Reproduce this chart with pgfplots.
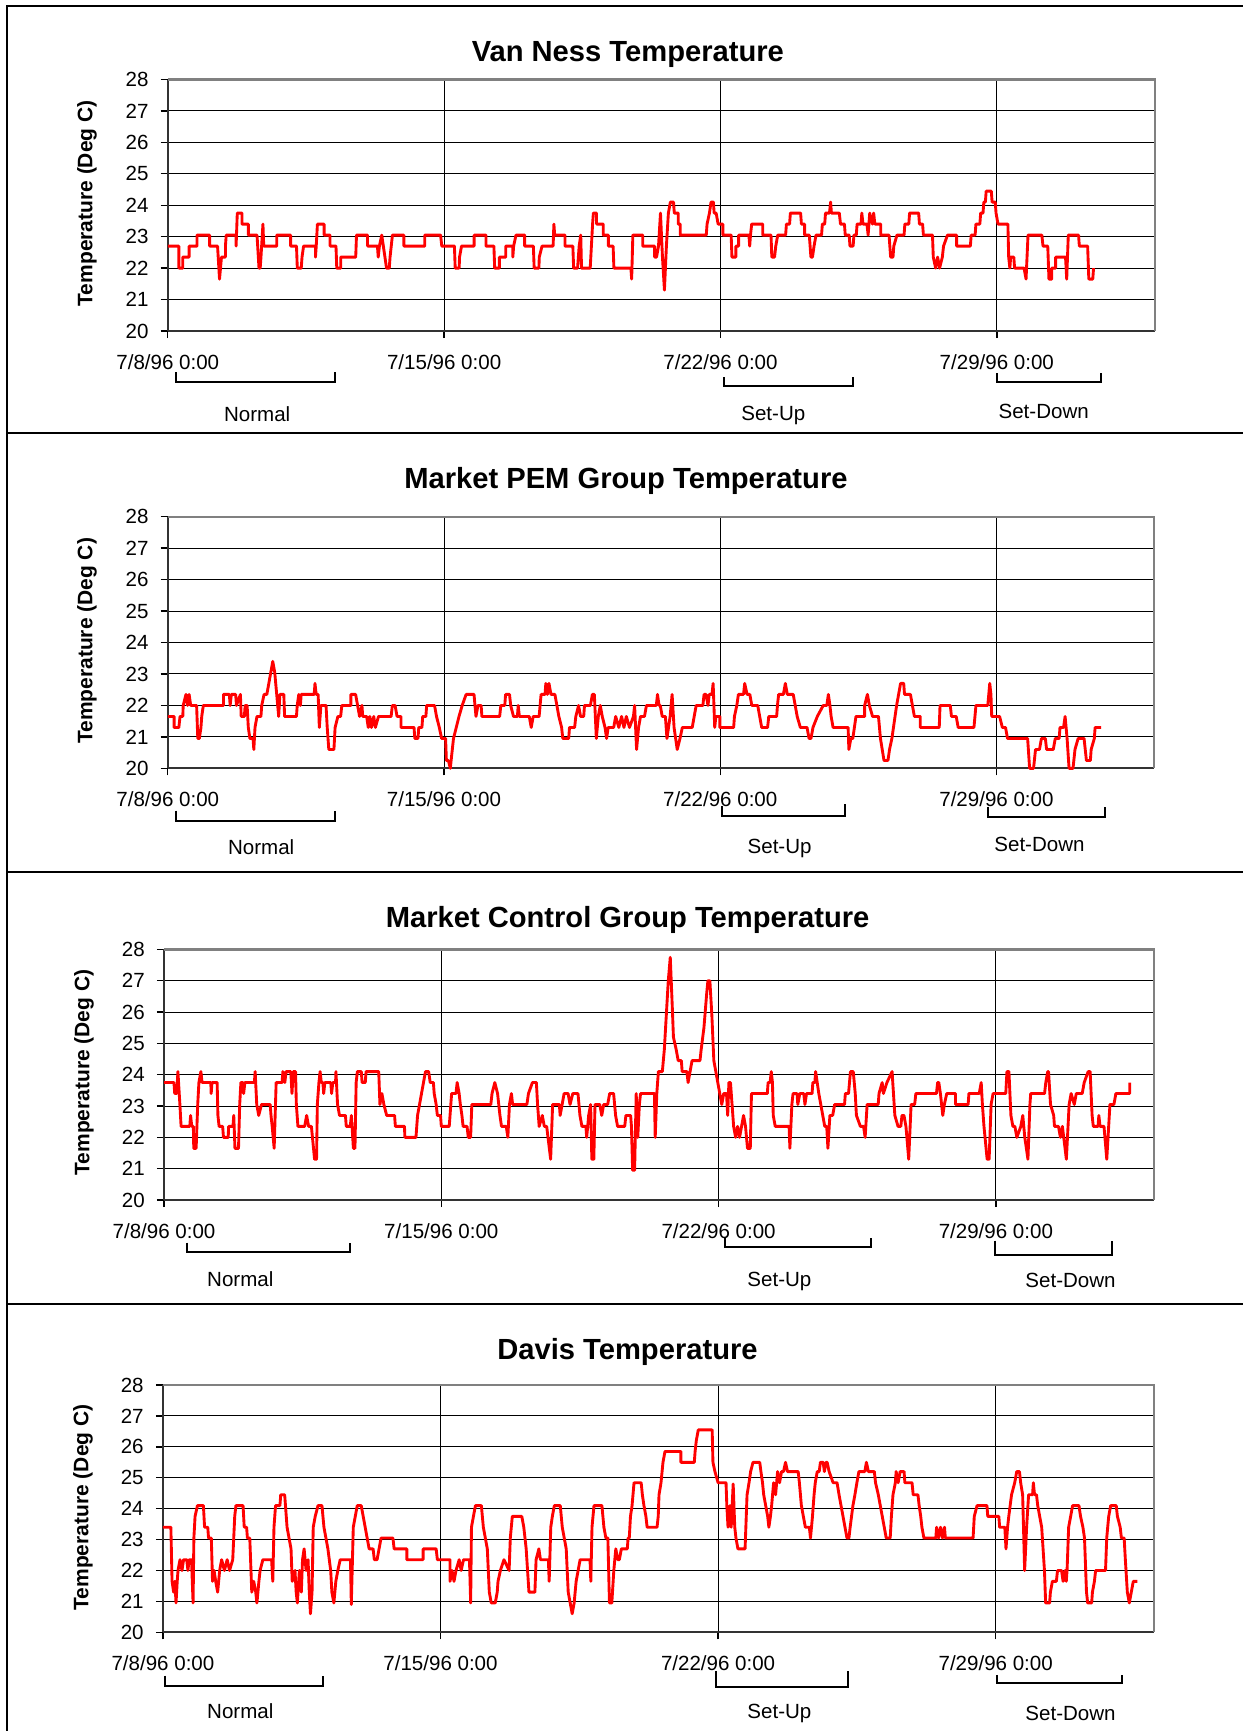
\documentclass[border=0pt]{standalone}
\usepackage{fontspec}
\setmainfont{Liberation Sans}
\usepackage{pgfplots}
\pgfplotsset{compat=1.18}

% common look of the four temperature panels (x = days after 7/8/96 0:00)
\pgfplotsset{
  temp/.style={
    scale only axis, anchor=south west,
    xmin=0, xmax=25, ymin=20, ymax=28,
    xtick={0,7,14,21},
    xticklabels={7/8/96 0:00,7/15/96 0:00,7/22/96 0:00,7/29/96 0:00},
    ytick={20,21,...,28},
    axis lines=left,
    axis line style={-, line width=0.9pt, black!80},
    grid=major,
    major grid style={line width=0.45pt, black},
    tick align=outside, major tick length=3.2pt,
    major tick style={line width=0.6pt, black},
    tick label style={font=\fontsize{9.3}{11}\selectfont},
    /pgf/number format/assume math mode=true,
    xticklabel style={anchor=north, yshift=-4pt},
    yticklabel style={anchor=east, xshift=-2pt},
    clip=false,
  },
  trace/.style={red, line width=1.3pt, line join=round, mark=none},
}
\newcommand{\plotframe}{\draw[gray, line width=1pt] (rel axis cs:0,1) -- (rel axis cs:1,1) -- (rel axis cs:1,0);}
\newcommand{\ttl}{\fontsize{13.2}{15}\selectfont\bfseries}
\newcommand{\ylab}{\fontsize{9.5}{11}\selectfont\bfseries Temperature (Deg C)}
\newcommand{\lab}{\fontsize{9.3}{11}\selectfont}

\begin{document}
\begin{tikzpicture}
\useasboundingbox (0,0) rectangle (563pt,-784pt);

% ---------- Van Ness ----------
\begin{axis}[temp, at={(76pt,-149.9pt)}, width=447pt, height=113.9pt]
\addplot[trace] coordinates {(0,22.7)(0.28,22.7)(0.28,22.0)(0.38,22.0)(0.38,22.35)(0.54,22.35)(0.54,22.7)(0.74,22.7)(0.74,23.05)(1.06,23.05)(1.06,22.7)(1.26,22.7)(1.31,21.65)(1.36,22.35)(1.46,22.35)(1.46,22.7)(1.48,23.05)(1.73,23.05)(1.73,22.7)(1.76,23.75)(1.88,23.75)(1.88,23.4)(2.04,23.4)(2.04,23.05)(2.26,23.05)(2.31,22.0)(2.34,22.0)(2.36,22.35)(2.41,23.4)(2.43,22.7)(2.76,22.7)(2.76,23.05)(3.11,23.05)(3.11,22.7)(3.26,22.7)(3.28,22.0)(3.38,22.0)(3.40,22.35)(3.44,22.7)(3.74,22.7)(3.74,22.35)(3.76,22.7)(3.79,23.4)(3.96,23.4)(3.96,23.05)(4.11,23.05)(4.11,22.7)(4.26,22.7)(4.28,22.0)(4.38,22.0)(4.38,22.35)(4.76,22.35)(4.78,23.05)(5.06,23.05)(5.06,22.7)(5.31,22.7)(5.33,22.35)(5.36,22.7)(5.42,23.05)(5.54,22.0)(5.61,22.0)(5.63,22.35)(5.66,22.7)(5.69,23.05)(5.98,23.05)(5.98,22.7)(6.51,22.7)(6.51,23.05)(6.91,23.05)(6.94,22.7)(7.26,22.7)(7.28,22.0)(7.38,22.0)(7.39,22.35)(7.44,22.7)(7.76,22.7)(7.76,23.05)(8.06,23.05)(8.06,22.7)(8.26,22.7)(8.28,22.0)(8.40,22.0)(8.40,22.35)(8.56,22.35)(8.56,22.7)(8.74,22.7)(8.74,22.35)(8.76,22.7)(8.82,23.05)(9.04,23.05)(9.04,22.7)(9.26,22.7)(9.28,22.0)(9.40,22.0)(9.41,22.35)(9.48,22.7)(9.76,22.7)(9.78,23.4)(9.80,23.05)(10.06,23.05)(10.06,22.7)(10.26,22.7)(10.28,22.0)(10.38,22.0)(10.40,22.35)(10.42,22.7)(10.46,23.05)(10.48,22.0)(10.70,22.0)(10.73,22.7)(10.76,23.4)(10.78,23.75)(10.86,23.75)(10.86,23.4)(11.03,23.4)(11.03,23.05)(11.16,23.05)(11.16,22.7)(11.28,22.7)(11.30,22.0)(11.73,22.0)(11.75,21.65)(11.78,23.05)(12.03,23.05)(12.03,22.7)(12.33,22.7)(12.33,22.35)(12.38,22.35)(12.43,22.7)(12.48,23.75)(12.53,22.35)(12.58,21.3)(12.63,22.7)(12.68,23.75)(12.73,24.1)(12.81,24.1)(12.83,23.75)(12.93,23.75)(12.93,23.4)(12.98,23.4)(12.98,23.05)(13.64,23.05)(13.66,23.4)(13.72,23.75)(13.76,24.1)(13.82,24.1)(13.84,23.75)(13.89,23.75)(13.94,23.4)(14.06,23.4)(14.06,23.05)(14.27,23.05)(14.29,22.35)(14.39,22.35)(14.39,22.7)(14.46,22.7)(14.46,23.05)(14.72,23.05)(14.74,22.7)(14.76,23.05)(14.79,23.4)(15.07,23.4)(15.07,23.05)(15.28,23.05)(15.30,22.35)(15.37,22.35)(15.40,22.7)(15.45,23.05)(15.65,23.05)(15.67,23.4)(15.75,23.4)(15.77,23.75)(16.03,23.75)(16.05,23.4)(16.13,23.4)(16.13,23.05)(16.25,23.05)(16.29,22.35)(16.33,22.35)(16.37,22.7)(16.42,23.05)(16.56,23.05)(16.58,23.4)(16.64,23.4)(16.66,23.75)(16.76,23.75)(16.79,24.1)(16.81,23.75)(17.01,23.75)(17.04,23.4)(17.14,23.4)(17.16,23.05)(17.26,23.05)(17.28,22.7)(17.36,22.7)(17.38,23.05)(17.44,23.05)(17.46,23.4)(17.56,23.4)(17.58,23.75)(17.61,23.4)(17.71,23.4)(17.74,23.05)(17.78,23.75)(17.85,23.4)(17.88,23.75)(17.91,23.4)(18.06,23.4)(18.06,23.05)(18.27,23.05)(18.31,22.35)(18.37,22.35)(18.39,22.7)(18.47,23.05)(18.65,23.05)(18.67,23.4)(18.77,23.4)(18.79,23.75)(19.02,23.75)(19.04,23.4)(19.12,23.4)(19.14,23.05)(19.37,23.05)(19.39,22.35)(19.45,22.0)(19.50,22.35)(19.55,22.0)(19.62,22.35)(19.65,22.7)(19.75,23.05)(19.98,23.05)(19.98,22.7)(20.33,22.7)(20.35,23.05)(20.45,23.05)(20.47,23.4)(20.57,23.4)(20.59,23.75)(20.65,23.75)(20.67,24.1)(20.71,24.1)(20.73,24.45)(20.86,24.45)(20.88,24.1)(20.96,24.1)(20.98,23.75)(21.03,23.4)(21.28,23.4)(21.30,22.35)(21.33,22.0)(21.35,22.35)(21.43,22.35)(21.45,22.0)(21.69,22.0)(21.74,21.65)(21.79,23.05)(22.14,23.05)(22.17,22.7)(22.29,22.7)(22.32,21.65)(22.39,21.65)(22.39,22.0)(22.49,22.0)(22.49,22.35)(22.74,22.35)(22.77,21.65)(22.81,23.05)(23.07,23.05)(23.09,22.7)(23.30,22.7)(23.33,21.65)(23.43,21.65)(23.45,22.0)};
\plotframe
\end{axis}

% ---------- Market PEM Group ----------
\begin{axis}[temp, at={(76pt,-348pt)}, width=446.8pt, height=114pt]
\addplot[trace] coordinates {(0,21.65)(0.16,21.65)(0.16,21.3)(0.28,21.3)(0.31,21.65)(0.38,21.65)(0.39,22.0)(0.46,22.35)(0.50,22.0)(0.54,22.35)(0.58,22.0)(0.73,22.0)(0.76,20.95)(0.80,20.95)(0.84,21.3)(0.86,21.65)(0.90,22.0)(1.41,22.0)(1.41,22.35)(1.56,22.35)(1.58,22.0)(1.61,22.35)(1.72,22.35)(1.74,22.0)(1.84,22.35)(1.86,21.65)(1.94,21.65)(1.96,22.0)(2.01,22.0)(2.04,21.3)(2.08,20.95)(2.16,20.95)(2.18,20.6)(2.21,21.3)(2.26,21.65)(2.36,21.65)(2.38,22.0)(2.44,22.35)(2.51,22.35)(2.56,22.7)(2.61,23.05)(2.66,23.4)(2.71,23.05)(2.76,22.35)(2.81,21.65)(2.84,22.35)(2.94,22.35)(2.96,21.65)(3.26,21.65)(3.28,22.0)(3.32,22.35)(3.36,22.0)(3.38,22.35)(3.71,22.35)(3.73,22.7)(3.76,22.35)(3.81,22.35)(3.84,21.3)(3.88,22.0)(4.01,22.0)(4.04,21.3)(4.08,20.6)(4.21,20.6)(4.24,21.3)(4.31,21.65)(4.38,21.65)(4.41,22.0)(4.64,22.0)(4.64,22.35)(4.76,22.35)(4.81,22.0)(4.86,21.65)(4.92,22.0)(4.94,21.65)(5.04,21.65)(5.08,21.3)(5.12,21.65)(5.16,21.3)(5.22,21.65)(5.26,21.3)(5.34,21.65)(5.66,21.65)(5.69,22.0)(5.76,22.0)(5.81,21.65)(5.91,21.65)(5.91,21.3)(6.24,21.3)(6.26,20.95)(6.34,20.95)(6.36,21.3)(6.44,21.3)(6.46,21.65)(6.54,21.65)(6.56,22.0)(6.76,22.0)(6.81,21.65)(6.88,21.3)(6.94,20.95)(7.04,20.95)(7.06,20.25)(7.11,20.25)(7.16,20.0)(7.18,20.25)(7.24,20.95)(7.31,21.3)(7.38,21.65)(7.46,22.0)(7.56,22.35)(7.76,22.35)(7.81,21.65)(7.86,22.0)(7.94,22.0)(7.96,21.65)(8.41,21.65)(8.44,22.0)(8.54,22.0)(8.56,22.35)(8.66,22.35)(8.69,22.0)(8.76,21.65)(8.86,21.65)(8.88,22.0)(8.91,21.65)(9.16,21.65)(9.21,21.3)(9.26,21.65)(9.41,21.65)(9.46,22.35)(9.56,22.35)(9.58,22.7)(9.62,22.35)(9.66,22.7)(9.71,22.35)(9.81,22.35)(9.86,22.0)(9.91,21.65)(9.98,21.3)(10.01,20.95)(10.16,20.95)(10.18,21.3)(10.31,21.3)(10.34,21.65)(10.41,22.0)(10.46,21.65)(10.54,21.65)(10.56,22.0)(10.71,22.0)(10.76,22.35)(10.81,22.35)(10.86,20.95)(10.91,21.65)(10.96,22.0)(11.01,21.65)(11.08,21.3)(11.12,20.95)(11.16,21.3)(11.30,21.3)(11.35,21.65)(11.43,21.3)(11.50,21.65)(11.56,21.3)(11.62,21.65)(11.70,21.3)(11.80,21.65)(11.83,22.0)(11.88,20.6)(11.93,21.3)(11.98,21.65)(12.08,21.65)(12.13,22.0)(12.38,22.0)(12.41,22.35)(12.45,22.0)(12.48,22.0)(12.53,21.65)(12.61,21.65)(12.65,20.95)(12.73,21.65)(12.78,22.35)(12.83,21.3)(12.91,20.6)(12.98,20.95)(13.04,21.3)(13.29,21.3)(13.34,21.65)(13.39,22.0)(13.56,22.0)(13.59,22.35)(13.64,22.35)(13.69,22.0)(13.72,22.35)(13.79,22.35)(13.82,22.7)(13.86,21.3)(13.89,21.65)(13.99,21.65)(13.99,21.3)(14.34,21.3)(14.36,21.65)(14.42,22.0)(14.46,22.35)(14.59,22.35)(14.62,22.7)(14.68,22.35)(14.75,22.35)(14.80,22.0)(14.95,22.0)(15.00,21.65)(15.05,21.3)(15.20,21.3)(15.23,21.65)(15.43,21.65)(15.45,22.0)(15.48,22.35)(15.60,22.35)(15.65,22.7)(15.70,22.35)(15.85,22.35)(15.90,22.0)(15.95,21.65)(16.03,21.3)(16.20,21.3)(16.25,20.95)(16.30,20.95)(16.35,21.3)(16.46,21.65)(16.61,22.0)(16.70,22.0)(16.74,22.35)(16.78,22.0)(16.81,21.65)(16.86,21.3)(17.24,21.3)(17.26,20.6)(17.31,20.95)(17.36,20.95)(17.44,21.65)(17.66,21.65)(17.66,22.0)(17.73,22.35)(17.78,22.0)(17.86,21.65)(18.01,21.65)(18.06,20.95)(18.15,20.25)(18.25,20.25)(18.29,20.6)(18.35,20.95)(18.39,21.3)(18.47,22.0)(18.52,22.35)(18.57,22.7)(18.65,22.7)(18.67,22.35)(18.82,22.35)(18.87,22.0)(18.92,21.65)(19.07,21.65)(19.07,21.3)(19.55,21.3)(19.57,22.0)(19.83,22.0)(19.86,21.65)(19.98,21.65)(20.03,21.3)(20.43,21.3)(20.48,22.0)(20.78,22.0)(20.83,22.7)(20.86,22.35)(20.88,21.65)(21.08,21.65)(21.15,21.3)(21.23,21.3)(21.28,20.95)(21.79,20.95)(21.84,20.0)(21.94,20.0)(21.99,20.6)(22.09,20.6)(22.14,20.95)(22.24,20.95)(22.27,20.6)(22.44,20.6)(22.49,20.95)(22.59,20.95)(22.61,21.3)(22.70,21.3)(22.74,21.65)(22.79,20.95)(22.84,20.0)(22.94,20.0)(22.99,20.6)(23.07,20.95)(23.22,20.95)(23.28,20.25)(23.38,20.25)(23.40,20.6)(23.48,20.95)(23.50,21.3)(23.65,21.3)};
\plotframe
\end{axis}

% ---------- Market Control Group ----------
\begin{axis}[temp, at={(74.3pt,-543.5pt)}, width=448.5pt, height=113.5pt]
\addplot[trace] coordinates {(0,23.75)(0.25,23.75)(0.27,23.4)(0.32,23.4)(0.35,24.1)(0.40,23.05)(0.43,22.35)(0.65,22.35)(0.67,22.7)(0.70,22.35)(0.74,22.35)(0.75,21.65)(0.81,21.65)(0.85,23.05)(0.88,23.75)(0.93,24.1)(0.96,23.75)(1.18,23.75)(1.19,23.4)(1.21,23.75)(1.34,23.75)(1.36,22.7)(1.39,22.35)(1.48,22.35)(1.50,22.0)(1.62,22.0)(1.63,22.35)(1.74,22.35)(1.76,22.7)(1.79,21.65)(1.88,21.65)(1.91,23.05)(1.94,23.75)(1.99,23.75)(2.01,23.4)(2.04,23.75)(2.28,23.75)(2.30,24.1)(2.34,23.05)(2.39,22.7)(2.46,23.05)(2.68,23.05)(2.70,22.7)(2.73,22.35)(2.78,21.65)(2.83,23.75)(2.98,23.75)(3.00,24.1)(3.05,23.75)(3.08,24.1)(3.20,24.1)(3.23,23.4)(3.26,24.1)(3.32,24.1)(3.34,23.05)(3.38,22.35)(3.55,22.35)(3.60,22.7)(3.65,22.35)(3.72,22.35)(3.80,21.3)(3.85,21.3)(3.87,23.05)(3.91,23.75)(3.94,24.1)(3.97,23.75)(4.01,23.75)(4.03,23.4)(4.06,23.75)(4.21,23.75)(4.23,23.4)(4.26,23.75)(4.33,23.75)(4.34,24.1)(4.38,23.05)(4.43,22.7)(4.58,22.7)(4.60,22.35)(4.70,22.35)(4.73,22.7)(4.78,21.65)(4.82,21.65)(4.85,23.75)(4.88,24.1)(4.98,24.1)(5.00,23.75)(5.08,23.75)(5.10,24.1)(5.42,24.1)(5.45,23.05)(5.50,23.4)(5.55,23.05)(5.62,22.7)(5.82,22.7)(5.84,22.35)(6.07,22.35)(6.08,22.0)(6.36,22.0)(6.40,22.7)(6.45,23.05)(6.50,23.4)(6.55,23.75)(6.60,24.1)(6.68,24.1)(6.72,23.75)(6.80,23.75)(6.82,23.4)(6.87,23.05)(6.90,22.7)(6.98,22.7)(7.00,22.35)(7.20,22.35)(7.22,22.7)(7.26,23.4)(7.37,23.4)(7.40,23.75)(7.45,23.4)(7.48,23.05)(7.52,22.7)(7.55,22.35)(7.65,22.35)(7.68,22.0)(7.74,22.0)(7.77,23.05)(8.25,23.05)(8.28,23.4)(8.35,23.75)(8.42,23.4)(8.48,22.7)(8.52,22.35)(8.64,22.35)(8.68,22.0)(8.72,23.05)(8.77,23.4)(8.80,23.05)(9.16,23.05)(9.20,23.4)(9.30,23.75)(9.40,23.75)(9.43,23.05)(9.47,22.35)(9.55,22.7)(9.60,22.35)(9.66,22.35)(9.76,21.3)(9.81,23.05)(9.98,23.05)(10.00,22.7)(10.05,23.05)(10.10,23.4)(10.20,23.4)(10.25,23.05)(10.32,23.4)(10.45,23.4)(10.50,22.7)(10.55,22.35)(10.65,22.35)(10.67,22.0)(10.72,22.7)(10.77,23.05)(10.80,21.3)(10.85,21.3)(10.88,23.05)(11.00,23.05)(11.05,22.7)(11.10,23.05)(11.20,23.05)(11.25,23.4)(11.35,23.4)(11.40,22.7)(11.45,22.35)(11.63,22.35)(11.66,22.7)(11.78,22.7)(11.80,22.35)(11.83,20.95)(11.88,20.95)(11.92,23.4)(11.96,22.0)(12.00,23.05)(12.03,23.4)(12.38,23.4)(12.40,22.0)(12.44,23.4)(12.48,24.1)(12.58,24.1)(12.63,24.8)(12.68,25.9)(12.73,27.0)(12.78,27.75)(12.83,26.2)(12.86,25.2)(12.93,24.8)(12.98,24.45)(13.06,24.45)(13.08,24.1)(13.20,24.1)(13.23,23.75)(13.28,24.1)(13.33,24.45)(13.53,24.45)(13.56,24.8)(13.63,25.5)(13.70,26.6)(13.73,27.0)(13.78,27.0)(13.83,25.9)(13.88,24.45)(13.93,24.1)(13.98,23.75)(14.03,23.4)(14.08,23.05)(14.13,23.4)(14.20,23.4)(14.23,22.7)(14.26,23.75)(14.30,23.75)(14.34,23.05)(14.38,22.35)(14.43,22.0)(14.48,22.35)(14.53,22.0)(14.58,22.35)(14.63,22.7)(14.68,22.35)(14.73,21.65)(14.80,21.65)(14.83,23.4)(15.23,23.4)(15.25,23.75)(15.30,23.75)(15.33,24.1)(15.36,23.75)(15.38,22.7)(15.43,22.35)(15.78,22.35)(15.80,21.65)(15.85,23.05)(15.88,23.4)(15.98,23.4)(16.00,23.05)(16.05,23.4)(16.15,23.4)(16.18,23.05)(16.22,23.4)(16.36,23.4)(16.38,23.75)(16.43,23.75)(16.45,24.1)(16.53,23.4)(16.63,22.7)(16.68,22.35)(16.73,22.35)(16.76,21.65)(16.81,22.7)(16.88,22.7)(16.93,23.05)(17.18,23.05)(17.20,23.4)(17.28,23.4)(17.33,24.1)(17.40,24.1)(17.45,23.4)(17.48,22.7)(17.58,22.35)(17.66,22.35)(17.70,22.0)(17.75,23.05)(18.03,23.05)(18.05,23.4)(18.13,23.75)(18.16,23.4)(18.25,23.75)(18.38,24.1)(18.45,22.7)(18.53,22.35)(18.60,22.35)(18.63,22.7)(18.68,22.7)(18.73,22.35)(18.80,21.3)(18.86,23.05)(18.95,23.05)(18.98,23.4)(19.50,23.4)(19.53,23.75)(19.56,23.75)(19.60,23.4)(19.66,22.7)(19.70,23.05)(19.76,23.4)(19.98,23.4)(19.98,23.05)(20.30,23.05)(20.32,23.4)(20.58,23.4)(20.63,23.75)(20.66,23.05)(20.70,22.35)(20.78,21.3)(20.83,21.3)(20.88,23.05)(20.93,23.4)(21.25,23.4)(21.28,24.1)(21.33,24.1)(21.38,22.7)(21.43,22.35)(21.48,22.35)(21.53,22.0)(21.63,22.35)(21.68,22.7)(21.73,22.0)(21.81,21.3)(21.86,23.05)(21.88,23.4)(22.23,23.4)(22.26,23.75)(22.31,24.1)(22.33,24.1)(22.38,23.05)(22.46,22.7)(22.48,22.35)(22.58,22.35)(22.63,22.0)(22.68,22.35)(22.78,21.3)(22.85,23.05)(22.90,23.4)(22.98,23.05)(23.03,23.4)(23.18,23.4)(23.23,23.75)(23.33,24.1)(23.38,24.1)(23.43,22.7)(23.46,22.35)(23.58,22.35)(23.60,22.7)(23.63,22.35)(23.73,22.35)(23.80,21.3)(23.88,23.05)(23.98,23.05)(24.03,23.4)(24.38,23.4)(24.38,23.75)};
\plotframe
\end{axis}

% ---------- Davis ----------
\begin{axis}[temp, at={(73.8pt,-739.3pt)}, width=449pt, height=112pt]
\addplot[trace] coordinates {(0,23.4)(0.20,23.4)(0.23,21.65)(0.27,21.3)(0.30,21.65)(0.33,20.95)(0.36,21.65)(0.38,22.0)(0.43,22.35)(0.48,22.0)(0.52,22.35)(0.60,22.35)(0.63,22.0)(0.66,22.35)(0.72,22.35)(0.76,20.95)(0.78,23.05)(0.81,23.75)(0.87,24.1)(1.02,24.1)(1.05,23.4)(1.13,23.4)(1.15,23.05)(1.22,23.05)(1.25,21.65)(1.29,22.0)(1.33,21.65)(1.38,21.3)(1.43,22.0)(1.48,22.35)(1.55,22.0)(1.62,22.35)(1.68,22.0)(1.76,22.35)(1.81,23.75)(1.84,24.1)(2.02,24.1)(2.05,23.4)(2.11,23.4)(2.13,23.05)(2.19,23.05)(2.24,21.3)(2.29,21.65)(2.34,21.3)(2.37,20.95)(2.42,21.65)(2.45,22.0)(2.52,22.35)(2.74,22.35)(2.77,21.65)(2.80,23.4)(2.84,24.1)(2.95,24.1)(2.97,24.45)(3.07,24.45)(3.09,24.1)(3.13,23.4)(3.18,23.05)(3.23,22.7)(3.26,21.65)(3.33,22.0)(3.36,21.3)(3.39,20.95)(3.44,22.0)(3.49,21.3)(3.52,22.35)(3.56,22.7)(3.61,22.0)(3.66,22.35)(3.69,21.3)(3.72,20.6)(3.76,21.3)(3.79,23.4)(3.84,23.75)(3.91,24.1)(4.01,24.1)(4.06,23.4)(4.11,23.05)(4.16,22.7)(4.23,22.0)(4.26,21.3)(4.31,20.95)(4.36,21.65)(4.41,22.0)(4.47,22.35)(4.73,22.35)(4.75,20.9)(4.80,23.4)(4.85,23.75)(4.90,24.1)(5.00,24.1)(5.05,23.75)(5.10,23.4)(5.15,23.05)(5.20,22.7)(5.30,22.7)(5.33,22.35)(5.40,22.35)(5.45,22.7)(5.50,23.05)(5.80,23.05)(5.83,22.7)(6.15,22.7)(6.15,22.35)(6.56,22.35)(6.56,22.7)(6.89,22.7)(6.92,22.35)(7.24,22.35)(7.24,21.65)(7.29,22.0)(7.34,21.65)(7.39,22.0)(7.47,22.35)(7.52,22.0)(7.58,22.35)(7.73,22.35)(7.76,20.95)(7.78,23.4)(7.83,23.75)(7.88,24.1)(8.03,24.1)(8.08,23.4)(8.13,23.05)(8.18,22.7)(8.23,21.3)(8.28,20.95)(8.38,20.95)(8.43,21.3)(8.45,21.65)(8.51,22.0)(8.60,22.35)(8.73,22.0)(8.76,23.05)(8.81,23.75)(9.05,23.75)(9.10,23.4)(9.13,23.05)(9.16,22.7)(9.23,21.3)(9.38,21.3)(9.41,22.35)(9.48,22.7)(9.52,22.35)(9.72,22.35)(9.74,21.65)(9.78,23.4)(9.82,23.75)(9.87,24.1)(10.02,24.1)(10.07,23.4)(10.12,23.05)(10.17,22.7)(10.22,21.3)(10.27,20.95)(10.32,20.6)(10.37,20.95)(10.42,21.65)(10.47,22.0)(10.52,22.35)(10.77,22.35)(10.79,21.65)(10.82,23.4)(10.87,24.1)(11.07,24.1)(11.12,23.4)(11.17,23.05)(11.22,23.05)(11.26,20.95)(11.32,20.95)(11.37,22.0)(11.42,22.7)(11.47,22.35)(11.51,22.35)(11.56,22.7)(11.71,22.7)(11.73,23.05)(11.76,23.05)(11.79,23.75)(11.83,24.1)(11.88,24.84)(12.06,24.84)(12.09,24.45)(12.13,24.1)(12.18,23.75)(12.21,23.4)(12.46,23.4)(12.49,23.75)(12.51,24.45)(12.56,24.84)(12.61,25.5)(12.66,25.85)(13.06,25.85)(13.06,25.5)(13.40,25.5)(13.42,25.85)(13.45,26.2)(13.50,26.55)(13.85,26.55)(13.87,25.5)(13.92,25.2)(14.00,24.84)(14.20,24.84)(14.22,24.1)(14.25,23.4)(14.30,24.1)(14.33,23.4)(14.38,24.8)(14.42,23.4)(14.45,23.05)(14.50,22.7)(14.68,22.7)(14.70,23.4)(14.73,24.45)(14.78,24.84)(14.82,25.2)(14.88,25.5)(15.05,25.5)(15.08,25.2)(15.12,24.84)(15.15,24.45)(15.20,24.1)(15.25,23.75)(15.28,23.4)(15.32,23.75)(15.35,24.1)(15.40,24.84)(15.45,24.45)(15.50,25.2)(15.55,24.84)(15.60,25.2)(15.65,25.2)(15.70,25.5)(15.75,25.2)(16.02,25.2)(16.05,24.84)(16.10,24.1)(16.15,23.75)(16.20,23.4)(16.30,23.4)(16.33,23.05)(16.38,23.75)(16.42,24.45)(16.45,24.84)(16.50,25.2)(16.55,25.2)(16.58,25.5)(16.65,25.5)(16.68,25.2)(16.72,25.5)(16.75,25.5)(16.80,25.2)(16.90,24.84)(17.00,24.84)(17.05,24.45)(17.10,24.1)(17.15,23.75)(17.20,23.4)(17.25,23.05)(17.30,23.05)(17.33,23.4)(17.40,24.1)(17.45,24.45)(17.50,24.84)(17.55,25.2)(17.70,25.2)(17.74,25.5)(17.79,25.2)(17.94,25.2)(17.97,24.84)(18.04,24.45)(18.09,24.1)(18.14,23.75)(18.19,23.4)(18.24,23.05)(18.34,23.05)(18.37,23.75)(18.41,24.45)(18.47,24.84)(18.49,25.2)(18.54,24.84)(18.59,25.2)(18.69,25.2)(18.71,24.84)(18.89,24.84)(18.92,24.45)(19.04,24.45)(19.07,24.1)(19.11,23.75)(19.14,23.4)(19.19,23.05)(19.49,23.05)(19.51,23.4)(19.56,23.05)(19.61,23.4)(19.66,23.05)(19.71,23.4)(19.73,23.05)(20.43,23.05)(20.46,23.75)(20.53,24.1)(20.78,24.1)(20.80,23.75)(21.08,23.75)(21.10,23.4)(21.23,23.4)(21.26,22.7)(21.30,23.4)(21.33,23.75)(21.40,24.45)(21.48,24.84)(21.53,25.2)(21.60,25.2)(21.63,24.84)(21.68,24.45)(21.73,22.0)(21.78,23.4)(21.83,24.45)(21.93,24.45)(21.95,24.84)(21.98,24.45)(22.03,24.45)(22.06,24.1)(22.11,23.75)(22.16,23.4)(22.23,22.0)(22.26,20.95)(22.36,20.95)(22.38,21.3)(22.43,21.65)(22.53,21.65)(22.56,22.0)(22.66,22.0)(22.70,21.65)(22.75,22.0)(22.78,21.65)(22.80,22.0)(22.84,23.4)(22.89,23.75)(22.94,24.1)(23.10,24.1)(23.14,23.75)(23.20,23.4)(23.24,23.05)(23.29,21.3)(23.32,20.95)(23.42,20.95)(23.44,21.3)(23.49,21.65)(23.52,22.0)(23.77,22.0)(23.80,23.05)(23.85,23.75)(23.90,24.1)(24.04,24.1)(24.07,23.75)(24.14,23.4)(24.17,23.05)(24.24,23.05)(24.27,22.35)(24.32,21.3)(24.37,20.95)(24.42,21.3)(24.47,21.65)(24.57,21.65)};
\plotframe
\end{axis}

% ---------- page furniture: frame, titles, axis titles, period brackets ----------
\begin{scope}[x=0.5pt, y=-0.5pt]
  \draw[line width=0.9pt] (6.4,1568) -- (6.4,5.4) -- (1126,5.4);
  \foreach \yy in {392.5,789.5,1181.5} \draw[line width=0.9pt] (6.4,\yy) -- (1126,\yy);

  \node[anchor=base] at (568.7,55.9)   {\ttl Van Ness Temperature};
  \node[anchor=base] at (567,442.3)    {\ttl Market PEM Group Temperature};
  \node[anchor=base] at (568.5,840)    {\ttl Market Control Group Temperature};
  \node[anchor=base] at (568.4,1231.3) {\ttl Davis Temperature};

  \node[rotate=90] at (78.8,184.2)  {\ylab};
  \node[rotate=90] at (78.8,580.5)  {\ylab};
  \node[rotate=90] at (76,971.5)    {\ylab};
  \node[rotate=90] at (75.2,1365.5) {\ylab};

  \begin{scope}[line width=0.9pt]
    \draw (159.2,337) -- (159.2,346) -- (303.5,346) -- (303.5,337);
    \draw (656,341.6) -- (656,349.7) -- (772.5,349.7) -- (772.5,341.6);
    \draw (903.5,338.2) -- (903.5,345.7) -- (997.6,345.7) -- (997.6,338.2);
    \draw (159.2,734.3) -- (159.2,743.4) -- (303.5,743.4) -- (303.5,734.3);
    \draw (654,730) -- (654,739.1) -- (765.7,739.1) -- (765.7,728.3);
    \draw (895.3,730.7) -- (895.3,740.3) -- (1001.3,740.3) -- (1001.3,730.7);
    \draw (169.7,1125.6) -- (169.7,1133.8) -- (316.8,1133.8) -- (316.8,1125.6);
    \draw (656.8,1121.4) -- (656.8,1129.8) -- (789.3,1129.8) -- (789.3,1121.4);
    \draw (901,1123.8) -- (901,1136.8) -- (1007.2,1136.8) -- (1007.2,1123.8);
    \draw (149.6,1517.8) -- (149.6,1526.9) -- (292.5,1526.9) -- (292.5,1517.8);
    \draw (648.3,1513.6) -- (648.3,1527.8) -- (768.1,1527.8) -- (768.1,1513.6);
    \draw (903.5,1517.2) -- (903.5,1524.1) -- (1016.3,1524.1) -- (1016.3,1517.2);
  \end{scope}

  \node[anchor=base] at (233,382)     {\lab Normal};
  \node[anchor=base] at (700.5,381)   {\lab Set-Up};
  \node[anchor=base] at (945.4,379.5) {\lab Set-Down};
  \node[anchor=base] at (236.6,773.6) {\lab Normal};
  \node[anchor=base] at (706.2,773)   {\lab Set-Up};
  \node[anchor=base] at (941.6,771.5) {\lab Set-Down};
  \node[anchor=base] at (217.7,1164.9) {\lab Normal};
  \node[anchor=base] at (706,1164.9)   {\lab Set-Up};
  \node[anchor=base] at (969.7,1166)   {\lab Set-Down};
  \node[anchor=base] at (217.7,1556.5) {\lab Normal};
  \node[anchor=base] at (706,1556.5)   {\lab Set-Up};
  \node[anchor=base] at (969.7,1558.6) {\lab Set-Down};
\end{scope}
\end{tikzpicture}
\end{document}
